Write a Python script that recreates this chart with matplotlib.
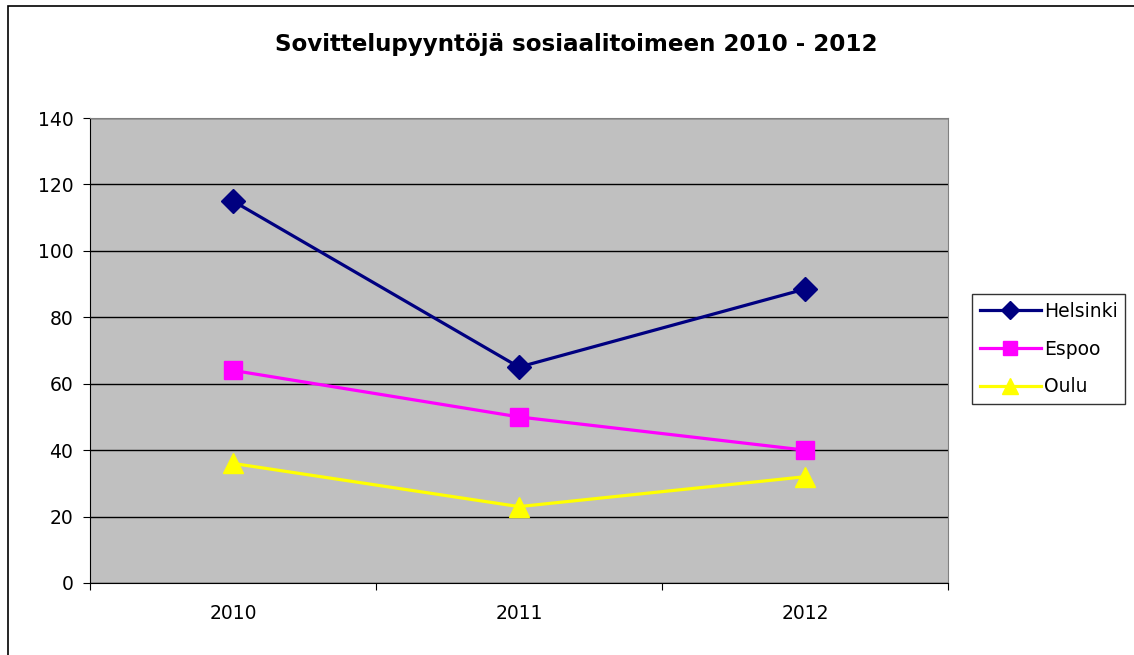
import matplotlib
matplotlib.use("Agg")

import matplotlib.pyplot as plt
from matplotlib.patches import Rectangle

years = ["2010", "2011", "2012"]
helsinki = [115, 65, 88.5]
espoo = [64, 50, 40]
oulu = [36, 23, 32]
yticks = [0, 20, 40, 60, 80, 100, 120, 140]

plt.rcParams["font.family"] = ["DejaVu Sans"]

fig = plt.figure(figsize=(11.34, 6.55), dpi=100)
ax = fig.add_axes([90 / 1134, 72 / 655, 858 / 1134, 465 / 655])

# outer chart border
fig.patches.append(Rectangle((8 / 1134, -0.1), 1.2, 649 / 655 + 0.1,
                             transform=fig.transFigure, fill=False,
                             edgecolor="black", linewidth=1.2))

ax.set_facecolor("#C0C0C0")
x = list(range(len(years)))
ax.plot(x, helsinki, color="#000080", lw=2.3, marker="D", ms=12, label="Helsinki")
ax.plot(x, espoo, color="#FF00FF", lw=2.3, marker="s", ms=13, label="Espoo")
ax.plot(x, oulu, color="#FFFF00", lw=2.3, marker="^", ms=15, label="Oulu")

ax.set_xlim(-0.5, 2.5)
ax.set_ylim(0, 140)
ax.set_yticks(yticks)
ax.yaxis.grid(True, color="black", lw=1)
ax.set_axisbelow(True)
ax.tick_params(axis="y", labelsize=13.5, length=5, direction="out", pad=7)

# category labels centered, tick marks between categories
ax.set_xticks([-0.5, 0.5, 1.5, 2.5])
ax.set_xticklabels([])
ax.set_xticks(x, minor=True)
ax.set_xticklabels(years, minor=True)
ax.tick_params(axis="x", which="major", length=5, direction="out")
ax.tick_params(axis="x", which="minor", length=0, labelsize=13.5, pad=15)

for s in ax.spines.values():
    s.set_color("#808080")
ax.spines["left"].set_color("black")
ax.spines["bottom"].set_color("black")

fig.text(576 / 1134, 1 - 44 / 655, "Sovittelupyyntöjä sosiaalitoimeen 2010 - 2012",
         ha="center", va="center", fontsize=16.6, fontweight="bold")

leg = ax.legend(loc="center left", bbox_to_anchor=(972 / 1134, 1 - 349 / 655),
                bbox_transform=fig.transFigure, fontsize=13.5, frameon=True,
                fancybox=False, edgecolor="black", borderpad=0.4,
                handlelength=3.3, handletextpad=0.15, labelspacing=1.0,
                markerscale=0.75, borderaxespad=0)
leg.get_frame().set_linewidth(1)

plt.savefig("out.png", dpi=100)
plt.close()
